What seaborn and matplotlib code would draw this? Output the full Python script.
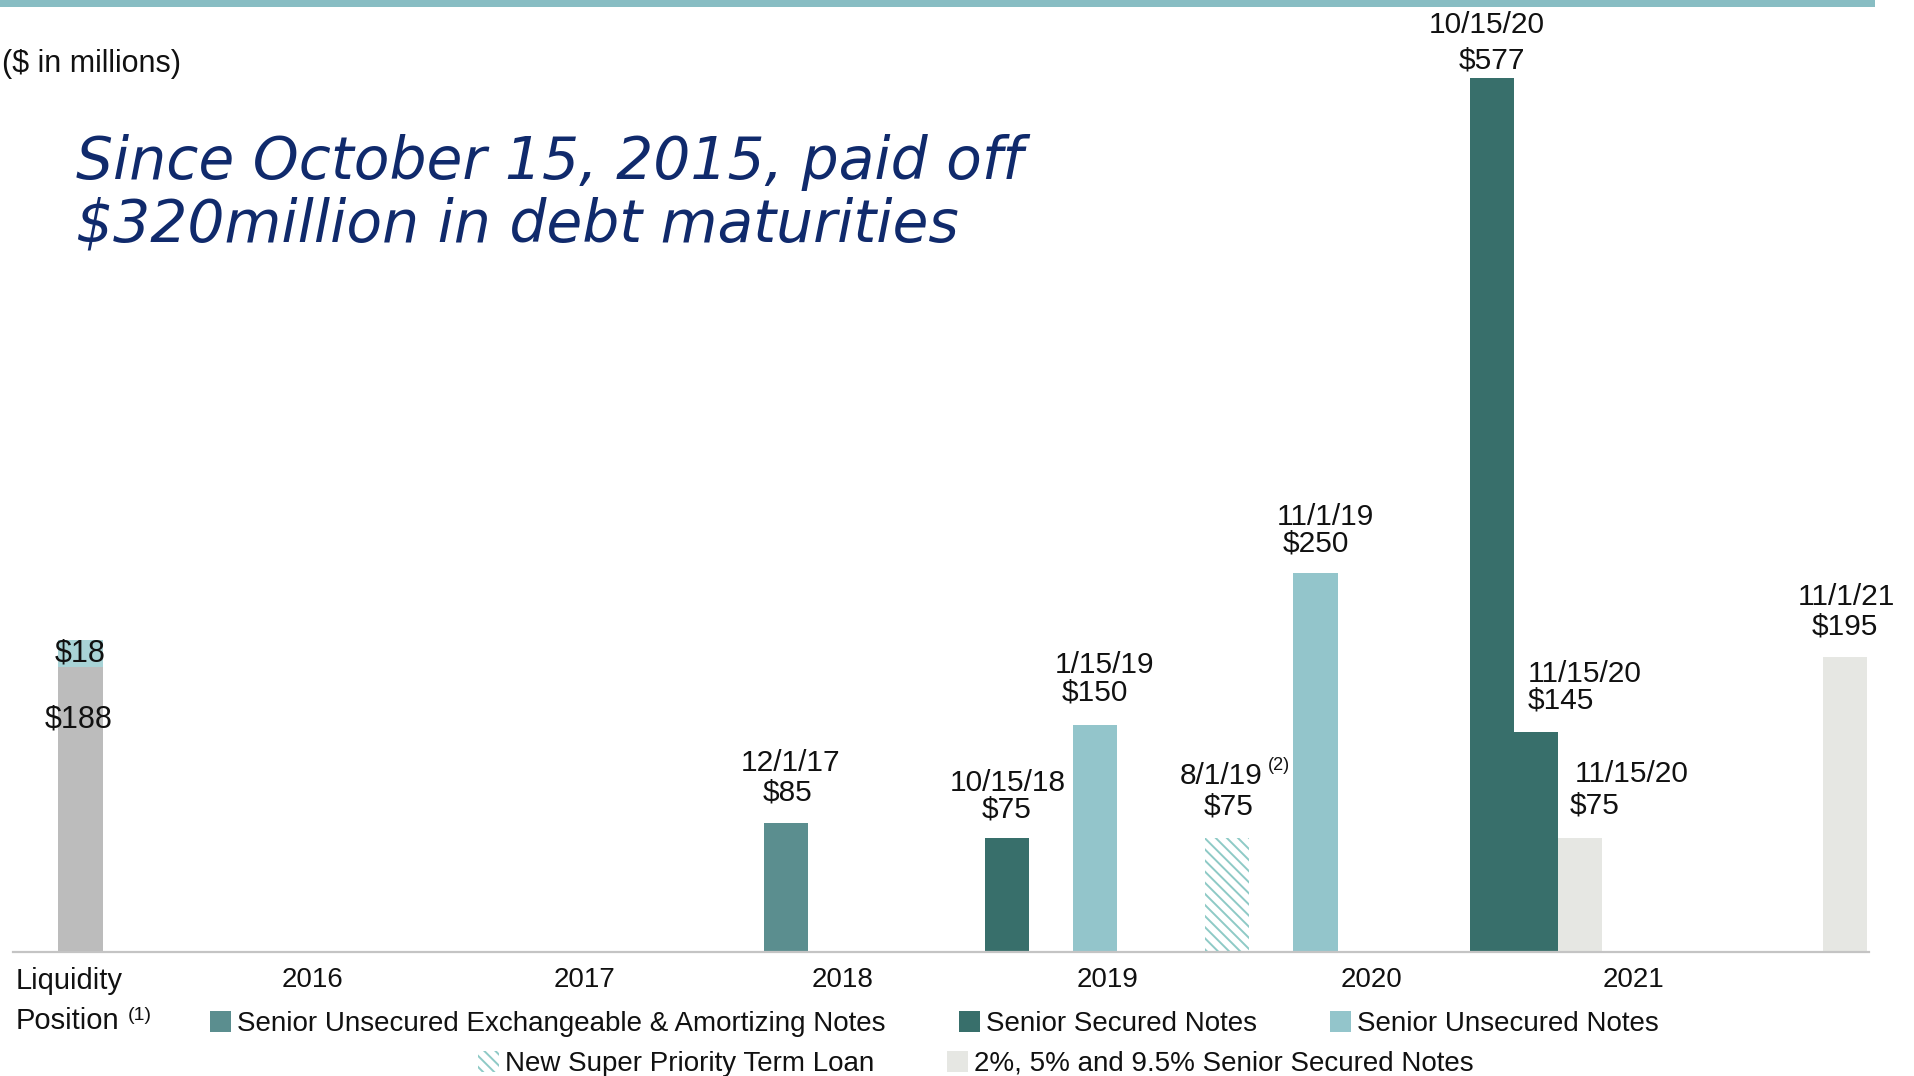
import matplotlib
matplotlib.use("Agg")
import matplotlib.pyplot as plt
from matplotlib.patches import Patch, Rectangle
import pandas as pd
import seaborn as sns

# ---------------- data ($ in millions) ----------------
liquidity_parts = [188, 18]            # base position, top segment
maturity_dates = ["12/1/17", "10/15/18", "1/15/19", "8/1/19", "11/1/19",
                  "10/15/20", "11/15/20", "11/15/20", "11/1/21"]
maturity_amounts = [85, 75, 150, 75, 250, 577, 145, 75, 195]
maturity_series = [
    "Senior Unsecured Exchangeable & Amortizing Notes",
    "Senior Secured Notes",
    "Senior Unsecured Notes",
    "New Super Priority Term Loan",
    "Senior Unsecured Notes",
    "Senior Secured Notes",
    "Senior Secured Notes",
    "2%, 5% and 9.5% Senior Secured Notes",
    "2%, 5% and 9.5% Senior Secured Notes",
]
year_labels = ["2016", "2017", "2018", "2019", "2020", "2021"]
headline = ["Since October 15, 2015, paid off",
            "$320million in debt maturities"]

# ---------------- layout ----------------
W, H = 1914, 1076
liquidity_slot = 0
maturity_slot = [16, 21, 23, 26, 28, 32, 33, 34, 40]
year_slot = [5.27, 11.42, 17.27, 23.28, 29.26, 35.2]
# (date dx, date dy, value dx, value dy, ha) in pixels from bar top centre
label_offsets = [
    (4, 60, 1, 31, "center"),
    (1, 55, 0, 29, "center"),
    (10, 60, 0, 32, "center"),
    (-6, 62, 1, 32, "center"),
    (10, 56, 0, 30, "center"),
    (-5, 53, 0, 17, "center"),
    (-8, 58, -8, 32, "left"),
    (-5, 64, -10, 33, "left"),
    (2, 60, 0, 30, "center"),
]

colors = {
    "Senior Unsecured Exchangeable & Amortizing Notes": "#5b8e8f",
    "Senior Secured Notes": "#386f6b",
    "Senior Unsecured Notes": "#93c5cb",
    "New Super Priority Term Loan": "#ffffff",
    "2%, 5% and 9.5% Senior Secured Notes": "#e6e7e3",
}
hatch_color = "#8ecac6"
liq_base_color = "#bcbcbc"
liq_top_color = "#a8d3d6"
band_color = "#88bdc3"
navy = "#102a6c"
ink = "#111111"

sns.set_theme(style="white")
plt.rcParams["font.family"] = ["Liberation Sans", "DejaVu Sans"]
plt.rcParams["hatch.linewidth"] = 1.4

fig = plt.figure(figsize=(W / 100, H / 100), dpi=100)
ax = fig.add_axes([13 / W, 1 - 952 / H, (1869 - 13) / W, 952 / H])

df = pd.DataFrame({"slot": maturity_slot, "amount": maturity_amounts,
                   "series": maturity_series, "date": maturity_dates})

# maturity bars
sns.barplot(data=df, x="slot", y="amount", hue="series", palette=colors,
            native_scale=True, width=1.0, dodge=False, errorbar=None,
            legend=False, saturation=1, linewidth=0, ax=ax)

term_slots = [s for s, n in zip(maturity_slot, maturity_series)
              if n == "New Super Priority Term Loan"]
for p in ax.patches:
    cx = p.get_x() + p.get_width() / 2
    if any(abs(cx - s) < 1e-6 for s in term_slots):
        p.set_facecolor("white")
        p.set_edgecolor(hatch_color)
        p.set_linewidth(0)
        p.set_hatch("\\\\\\")

# liquidity position: total drawn first, base overlaid
liq_total = sum(liquidity_parts)
sns.barplot(x=[liquidity_slot], y=[liq_total], color=liq_top_color,
            native_scale=True, width=1.0, errorbar=None, saturation=1,
            linewidth=0, ax=ax)
sns.barplot(x=[liquidity_slot], y=[liquidity_parts[0]], color=liq_base_color,
            native_scale=True, width=1.0, errorbar=None, saturation=1,
            linewidth=0, ax=ax)

ax.set_xlim(-1.53, 40.55)
ax.set_ylim(0, 952 / 1.515)
ax.set_xlabel("")
ax.set_ylabel("")
ax.set_yticks([])
ax.set_xticks(year_slot, year_labels)
ax.tick_params(axis="x", length=0, pad=11, labelsize=20, labelcolor=ink)
for side in ("left", "right", "top"):
    ax.spines[side].set_visible(False)
ax.spines["bottom"].set_color("#c4c4c4")
ax.spines["bottom"].set_linewidth(1.6)
ax.patch.set_alpha(0)

# value labels
lab_fs = 21.5
for slot, amt, date, (ddx, ddy, vdx, vdy, ha) in zip(
        maturity_slot, maturity_amounts, maturity_dates, label_offsets):
    ax.annotate(date, xy=(slot, amt), xytext=(ddx, ddy),
                textcoords="offset pixels", ha=ha, va="center",
                fontsize=lab_fs, color=ink)
    ax.annotate(f"${amt}", xy=(slot, amt), xytext=(vdx, vdy),
                textcoords="offset pixels", ha=ha, va="center",
                fontsize=lab_fs, color=ink)
# footnote marker on the term loan date
ax.annotate("(2)", xy=(term_slots[0], 75), xytext=(52, 73),
            textcoords="offset pixels", ha="center", va="center",
            fontsize=13, color=ink)

ax.annotate(f"${liquidity_parts[1]}",
            xy=(liquidity_slot, liquidity_parts[0] + liquidity_parts[1] / 2),
            xytext=(0, 0), textcoords="offset pixels", ha="center",
            va="center", fontsize=22, color=ink)
ax.annotate(f"${liquidity_parts[0]}", xy=(liquidity_slot, liquidity_parts[0]),
            xytext=(-1.5, -52), textcoords="offset pixels", ha="center",
            va="center", fontsize=22, color=ink)

# category label for the liquidity bar
fig.text(16 / W, 1 - 981 / H, "Liquidity", ha="left", va="center",
         fontsize=21, color=ink)
fig.text(16 / W, 1 - 1021 / H, "Position", ha="left", va="center",
         fontsize=21, color=ink)
fig.text(128 / W, 1 - 1015 / H, "(1)", ha="left", va="center",
         fontsize=14, color=ink)

# units note and headline
fig.text(2 / W, 1 - 64 / H, "($ in millions)", ha="left", va="center",
         fontsize=22, color=ink)
fig.text(76 / W, 1 - 179 / H, headline[0], ha="left", va="baseline",
         fontsize=42, style="italic", family="DejaVu Sans", color=navy)
fig.text(76 / W, 1 - 242 / H, headline[1], ha="left", va="baseline",
         fontsize=42, style="italic", family="DejaVu Sans", color=navy)

# top accent band
fig.add_artist(Rectangle((0, 1 - 7 / H), 1875 / W, 7 / H,
                         transform=fig.transFigure, color=band_color,
                         linewidth=0))

# legend, two rows
def handle(name):
    if name == "New Super Priority Term Loan":
        return Patch(facecolor="white", edgecolor=hatch_color, linewidth=0,
                     hatch="\\\\\\")
    return Patch(facecolor=colors[name], linewidth=0)

row1 = ["Senior Unsecured Exchangeable & Amortizing Notes",
        "Senior Secured Notes", "Senior Unsecured Notes"]
row2 = ["New Super Priority Term Loan", "2%, 5% and 9.5% Senior Secured Notes"]
leg_kw = dict(frameon=False, fontsize=20, handlelength=0.76,
              handleheight=0.76, handletextpad=0.22,
              borderpad=0, borderaxespad=0, loc="center left",
              labelcolor=ink)
fig.legend([handle(n) for n in row1], row1, ncol=3, columnspacing=2.62,
           bbox_to_anchor=(210 / W, 1 - 1024 / H), **leg_kw)
fig.legend([handle(n) for n in row2], row2, ncol=2, columnspacing=2.6,
           bbox_to_anchor=(478 / W, 1 - 1064 / H), **leg_kw)

fig.savefig("out.png", dpi=100)
